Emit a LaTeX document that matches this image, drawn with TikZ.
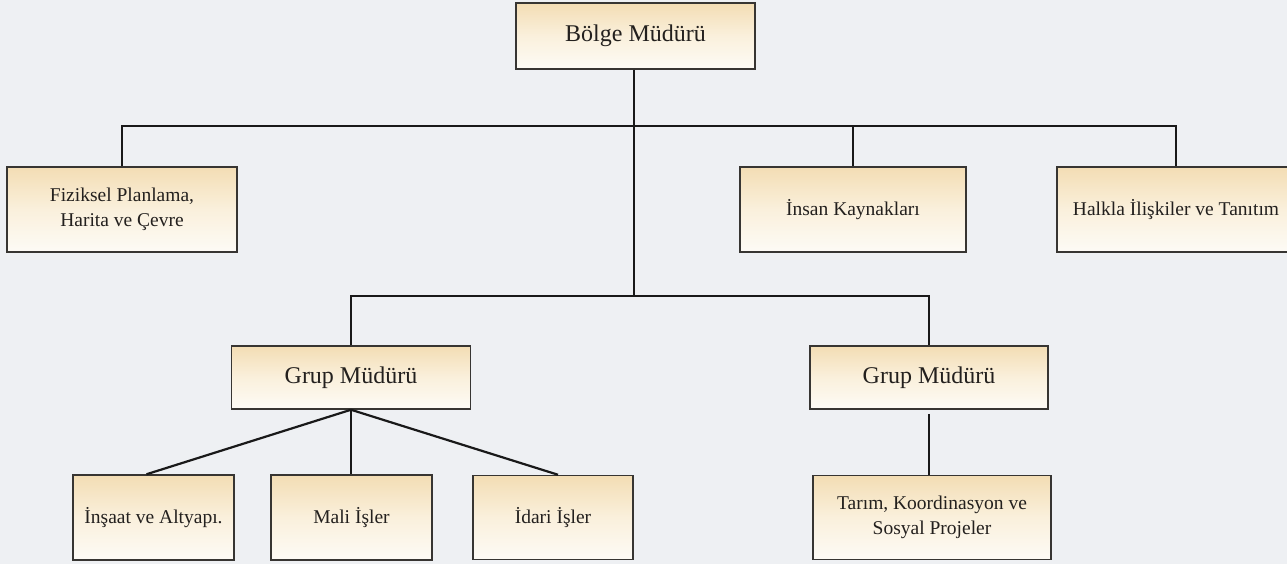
\documentclass[tikz,border=0pt]{standalone}
\usepackage{fontspec}
\setmainfont{Liberation Serif}
\begin{document}
\begin{tikzpicture}[x=1pt,y=-1pt,
  box/.style={draw=boxline, line width=1.5pt, rectangle, inner sep=0pt,
    top color=boxtop, bottom color=boxbot, middle color=boxmid,
    text=textcol, align=center, font=\fontsize{19.5}{25}\selectfont},
  bigbox/.style={box, font=\fontsize{24}{28}\selectfont},
  conn/.style={draw=black!90, line width=2.2pt}]
\definecolor{bg}{RGB}{238,240,243}
\definecolor{boxtop}{RGB}{243,221,180}
\definecolor{boxmid}{RGB}{250,240,220}
\definecolor{boxbot}{RGB}{253,251,246}
\definecolor{boxline}{RGB}{55,53,50}
\definecolor{textcol}{RGB}{35,32,30}
\clip (0,0) rectangle (1287,564);
\fill[bg] (0,0) rectangle (1287,564);
% nodes
\node[bigbox, minimum width=239pt, minimum height=66pt] (bolge) at (635.5,36) {Bölge Müdürü};
\node[box, minimum width=230pt, minimum height=85pt] (fiz) at (122,209.5) {Fiziksel Planlama,\\Harita ve Çevre};
\node[box, minimum width=226pt, minimum height=85pt] (insan) at (853,209.5) {İnsan Kaynakları};
\node[box, minimum width=238pt, minimum height=85pt] (halkla) at (1176,209.5) {Halkla İlişkiler ve Tanıtım};
\node[bigbox, minimum width=239pt, minimum height=63pt] (gmL) at (351,377.5) {Grup Müdürü};
\node[bigbox, minimum width=238pt, minimum height=63pt] (gmR) at (929,377.5) {Grup Müdürü};
\node[box, minimum width=161pt, minimum height=85pt] (insaat) at (153.5,517.5) {İnşaat ve Altyapı.};
\node[box, minimum width=161pt, minimum height=85pt] (mali) at (351.5,517.5) {Mali İşler};
\node[box, minimum width=160pt, minimum height=84pt] (idari) at (553,517.5) {İdari İşler};
\node[box, minimum width=238pt, minimum height=84pt] (tarim) at (932,517.5) {Tarım, Koordinasyon ve\\Sosyal Projeler};
% bar coordinates
\coordinate (bar1) at (634,126);
\coordinate (bar2) at (634,296);
% connectors
\draw[conn] (bolge.south -| bar2) -- (bar2);
\draw[conn] (fiz.north) |- (bar1) -| (halkla.north);
\draw[conn] (insan.north) -- (insan.north |- bar1);
\draw[conn] (gmL.north) |- (bar2) -| (gmR.north);
\draw[conn] (gmL.south) -- ([xshift=-7pt]insaat.north);
\draw[conn] (gmL.south) -- (gmL.south |- mali.north);
\draw[conn] (gmL.south) -- ([xshift=5pt]idari.north);
\draw[conn] ([yshift=-4pt]gmR.south) -- (gmR.south |- tarim.north);
\end{tikzpicture}
\end{document}
